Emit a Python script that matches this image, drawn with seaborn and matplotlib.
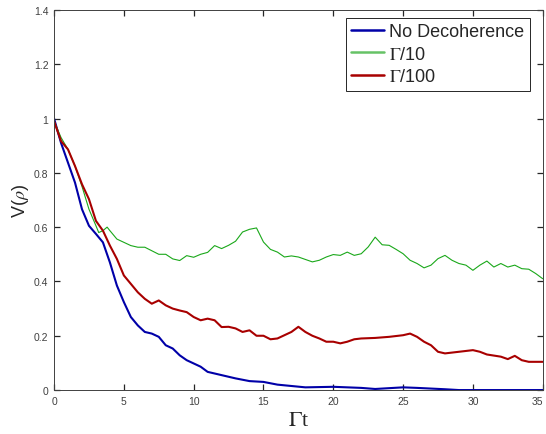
import matplotlib
matplotlib.use("Agg")
import matplotlib.pyplot as plt
import seaborn as sns
import numpy as np
import pandas as pd

# --- data ---
t_blue = [0, 0.5, 1, 1.5, 2, 2.5, 3, 3.5, 4, 4.5, 5, 5.5, 6, 6.5, 7, 7.5, 8, 8.5, 9, 9.5,
          10, 10.5, 11, 11.5, 12, 13, 14, 15, 16, 17, 18, 20, 22, 23, 25, 26, 28, 29, 35]
v_blue = [1.0, 0.91, 0.837, 0.764, 0.666, 0.605, 0.575, 0.544, 0.47, 0.385, 0.324, 0.269,
          0.238, 0.214, 0.208, 0.196, 0.165, 0.153, 0.128, 0.11, 0.098, 0.086, 0.067, 0.061,
          0.055, 0.043, 0.033, 0.03, 0.02, 0.015, 0.01, 0.012, 0.008, 0.004, 0.01, 0.008,
          0.003, 0.0, 0.0]

t_green = [0, 0.5, 1, 1.5, 2, 2.5, 3, 3.2, 3.5, 3.8, 4, 4.5, 5, 5.5, 6, 6.5, 7, 7.5, 8, 8.5,
           9, 9.5, 10, 10.5, 11, 11.5, 12, 12.5, 13, 13.5, 14, 14.5, 15, 15.5, 16, 16.5, 17,
           17.5, 18, 18.5, 19, 19.5, 20, 20.5, 21, 21.5, 22, 22.5, 23, 23.5, 24, 24.5, 25,
           25.5, 26, 26.5, 27, 27.5, 28, 28.5, 29, 29.5, 30, 30.5, 31, 31.5, 32, 32.5, 33,
           33.5, 34, 34.5, 35]
v_green = [0.99, 0.93, 0.886, 0.825, 0.75, 0.666, 0.605, 0.58, 0.587, 0.6, 0.587, 0.556,
           0.544, 0.532, 0.526, 0.526, 0.513, 0.5, 0.5, 0.483, 0.477, 0.495, 0.489, 0.5,
           0.507, 0.532, 0.521, 0.533, 0.548, 0.582, 0.592, 0.597, 0.545, 0.518, 0.508, 0.49,
           0.494, 0.49, 0.481, 0.472, 0.478, 0.49, 0.499, 0.496, 0.508, 0.496, 0.502, 0.527,
           0.563, 0.535, 0.533, 0.518, 0.502, 0.478, 0.466, 0.45, 0.46, 0.484, 0.496, 0.478,
           0.466, 0.46, 0.441, 0.46, 0.475, 0.453, 0.466, 0.453, 0.46, 0.447, 0.445, 0.429,
           0.41]

t_red = [0, 0.5, 1, 1.5, 2, 2.5, 3, 3.5, 4, 4.5, 5, 5.5, 6, 6.5, 7, 7.5, 8, 8.5, 9, 9.5,
         10, 10.5, 11, 11.5, 12, 12.5, 13, 13.5, 14, 14.5, 15, 15.5, 16, 16.5, 17, 17.5, 18,
         18.5, 19, 19.5, 20, 20.5, 21, 21.5, 22, 23, 24, 25, 25.5, 26, 26.5, 27, 27.5, 28,
         29, 30, 30.5, 31, 32, 32.5, 33, 33.5, 34, 35]
v_red = [0.99, 0.917, 0.886, 0.825, 0.758, 0.703, 0.623, 0.587, 0.532, 0.483, 0.422, 0.391,
         0.36, 0.336, 0.318, 0.33, 0.312, 0.3, 0.293, 0.287, 0.269, 0.257, 0.263, 0.257,
         0.232, 0.233, 0.227, 0.214, 0.22, 0.2, 0.2, 0.187, 0.19, 0.202, 0.214, 0.233, 0.214,
         0.2, 0.19, 0.178, 0.178, 0.172, 0.178, 0.187, 0.19, 0.192, 0.196, 0.202, 0.208,
         0.196, 0.178, 0.165, 0.141, 0.135, 0.141, 0.147, 0.141, 0.131, 0.123, 0.114, 0.126,
         0.11, 0.104, 0.104]

labels = ["No Decoherence", r"$\Gamma$/10", r"$\Gamma$/100"]
x_ticks = [0, 5, 10, 15, 20, 25, 30, 35]
y_ticks = [0, 0.2, 0.4, 0.6, 0.8, 1.0, 1.2, 1.4]
y_tick_labels = ["0", "0.2", "0.4", "0.6", "0.8", "1", "1.2", "1.4"]

sns.set_theme(style="white")
plt.rcParams["font.family"] = ["Liberation Sans", "DejaVu Sans"]
plt.rcParams["mathtext.fontset"] = "stix"
plt.rcParams["mathtext.rm"] = "Liberation Serif"

fig = plt.figure(figsize=(5.46, 4.35), dpi=100)
ax = fig.add_axes([0.099, 0.101, 0.895, 0.874])

sns.lineplot(x=t_blue, y=v_blue, ax=ax, color="#0000a8", lw=1.5, label=labels[0])
sns.lineplot(x=t_green, y=v_green, ax=ax, color="#1aa81a", lw=0.8, label=labels[1])
sns.lineplot(x=t_red, y=v_red, ax=ax, color="#a80000", lw=1.5, label=labels[2])

ax.set_xlim(0, 35)
ax.set_ylim(0, 1.4)
ax.set_xticks(x_ticks)
ax.set_yticks(y_ticks)
ax.set_yticklabels(y_tick_labels)
ax.tick_params(direction="in", length=4.5, width=0.9, labelsize=7.5, color="#262626",
               labelcolor="#404040", bottom=True, left=True, top=True, right=True, pad=4)
ax.get_xticklabels()[-1].set_horizontalalignment("right")
for s in ax.spines.values():
    s.set_visible(True)
    s.set_color("#404040")
    s.set_linewidth(0.7)

ax.set_xlabel(r"$\Gamma$t", fontsize=16, family="Liberation Serif", color="#262626", labelpad=4)
ax.set_ylabel(r"V($\rho$)", fontsize=13, color="#262626", labelpad=2)

leg = ax.legend(loc="upper right", bbox_to_anchor=(0.973, 0.979), borderaxespad=0,
                fontsize=13, frameon=True, fancybox=False,
                edgecolor="#262626", framealpha=1, borderpad=0.3, handlelength=1.8,
                handletextpad=0.3, labelspacing=0.3)
leg.get_frame().set_linewidth(0.7)
leg_colors = ["#0000a8", "#66c266", "#a80000"]
for h, c in zip(leg.get_lines(), leg_colors):
    h.set_linewidth(1.8)
    h.set_color(c)

fig.savefig("out.png", dpi=100)
